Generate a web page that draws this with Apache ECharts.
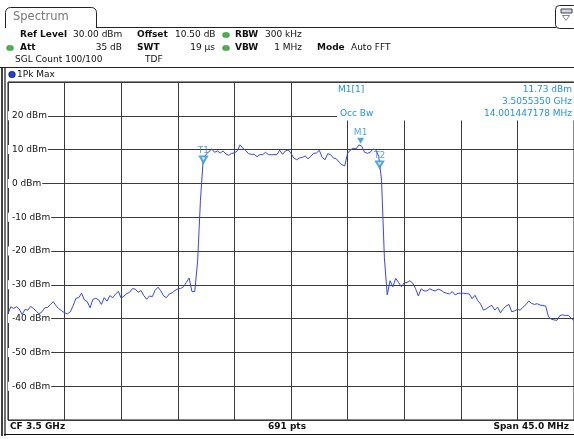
<!DOCTYPE html>
<html>
<head>
<meta charset="utf-8">
<script src="https://cdn.jsdelivr.net/npm/echarts/dist/echarts.min.js"></script>
<style>
  html, body { margin: 0; padding: 0; background: #fff; }
  #chart { width: 574px; height: 439px; }
</style>
</head>
<body>
<div id="chart"></div>
<script>
// Sweep definition: frequency offset from the 3.5 GHz centre, in MHz
const sweepStartMHz = -22.5;
const sweepStopMHz = 22.5;
const sweepStepMHz = 0.225;
const freqDivMHz = 4.5;

// Trace 1 (1Pk Max) levels in dBm, one per sweep point
const traceLevelsDbm = [
  -38.5, -36.5, -37.0, -36.5, -37.2, -38.8, -37.3, -37.5, -36.4, -37.0,
  -37.8, -38.6, -38.0, -36.8, -36.7, -35.8, -35.0, -36.2, -37.1, -37.7,
  -38.3, -38.6, -38.0, -36.2, -34.0, -33.8, -32.5, -34.5, -35.0, -36.8,
  -34.3, -34.0, -34.4, -35.8, -33.8, -34.8, -33.2, -33.8, -32.8, -31.9,
  -34.0, -33.3, -32.6, -32.2, -31.1, -31.3, -32.2, -31.7, -33.2, -34.3,
  -33.3, -33.5, -31.6, -30.7, -31.8, -33.3, -33.8, -32.7, -32.4, -31.7,
  -31.2, -31.1, -30.6, -29.3, -28.0, -32.0, -32.0,
  -23.0, -5.0,
  7.3, 8.6, 9.4, 10.2, 9.2, 9.6, 9.0, 9.6, 8.7, 8.3,
  8.9, 9.0, 9.6, 11.4, 10.4, 9.7, 8.8, 8.6, 8.6, 7.9,
  8.5, 8.5, 9.2, 8.5, 8.5, 8.5, 8.5, 9.8, 8.6, 9.6,
  9.9, 8.9, 7.5, 7.0, 7.5, 7.7, 8.1, 7.3, 8.0, 8.9,
  9.0, 9.8, 7.7, 7.0, 8.8, 8.5, 7.5, 7.3, 6.3, 5.5,
  5.2, 8.9, 9.9, 10.4, 10.2, 11.4, 11.0, 9.2, 8.9, 9.2,
  10.2, 9.9, 8.0,
  1.0, -22.0, -33.0, -28.8, -30.6, -28.1, -29.3, -30.6, -29.4, -29.3,
  -28.8, -29.5, -31.1, -33.3, -31.2, -31.8, -31.8, -31.2, -31.6, -31.8,
  -31.3, -31.6, -32.2, -32.5, -32.7, -32.0, -33.0, -32.5, -32.5, -32.5,
  -32.6, -32.7, -34.1, -33.1, -34.7, -35.7, -37.5, -37.1, -36.5, -36.1,
  -37.5, -36.6, -38.3, -37.1, -36.3, -35.8, -38.0, -37.7, -37.3, -37.5,
  -36.6, -35.9, -34.8, -35.5, -35.8, -35.6, -36.0, -36.1, -36.3, -39.5,
  -40.2, -40.4, -40.5, -39.1, -38.9, -39.1, -39.0, -39.9, -40.6
];

// Level axis (dBm)
const levelMin = -70;
const levelMax = 30;
const levelDiv = 10;

// Marker M1 (peak) and occupied-bandwidth markers T1/T2
const m1OffsetMHz = 5.535;          // 3.5055350 GHz
const m1LevelDbm = 11.73;
const t1OffsetMHz = -6.96;
const occBwMHz = 14.001447178;

// Build the trace as [offset MHz, dBm] pairs, with the M1 point included
const traceData = traceLevelsDbm.map((v, i) => [sweepStartMHz + i * sweepStepMHz, v]);
traceData.push([m1OffsetMHz, m1LevelDbm]);
traceData.sort((a, b) => a[0] - b[0]);

function levelAt(f) {
  for (let i = 1; i < traceData.length; i++) {
    const a = traceData[i - 1], b = traceData[i];
    if (f >= a[0] && f <= b[0]) {
      return a[1] + (b[1] - a[1]) * (f - a[0]) / (b[0] - a[0]);
    }
  }
  return traceData[traceData.length - 1][1];
}
const t2OffsetMHz = t1OffsetMHz + occBwMHz;

const FONT = '"DejaVu Sans", Verdana, sans-serif';
const MK = '#2592d8';
const GRIDC = '#3a3a3a';

function txt(x, y, text, opt) {
  opt = opt || {};
  return {
    type: 'text', z: 20,
    style: {
      x: x, y: y, text: text,
      font: (opt.bold ? 'bold ' : '') + (opt.size || 9) + 'px ' + FONT,
      fill: opt.color || '#111',
      textAlign: opt.align || 'left',
      textVerticalAlign: 'middle'
    }
  };
}
function hline(x1, x2, y, w, c) {
  return { type: 'line', z: 15, shape: { x1: x1, y1: y, x2: x2, y2: y }, style: { stroke: c || '#111', lineWidth: w || 1 } };
}
function vline(x, y1, y2, w, c) {
  return { type: 'line', z: 15, shape: { x1: x, y1: y1, x2: x, y2: y2 }, style: { stroke: c || '#111', lineWidth: w || 1 } };
}
function led(cx, cy) {
  return { type: 'rect', z: 20, shape: { x: cx - 3.5, y: cy - 2.5, width: 7, height: 5, r: 2.5 }, style: { fill: '#4fae4f', stroke: '#3a8a3a', lineWidth: 0.5 } };
}

const chart = echarts.init(document.getElementById('chart'), null, { renderer: 'canvas' });

chart.setOption({
  animation: false,
  backgroundColor: '#fff',
  grid: { left: 8, right: 0, top: 82, height: 338, show: true, borderColor: '#111', borderWidth: 1, backgroundColor: 'transparent' },
  xAxis: {
    type: 'value',
    min: sweepStartMHz, max: sweepStopMHz, interval: freqDivMHz,
    axisLine: { show: false }, axisTick: { show: false }, axisLabel: { show: false },
    splitLine: { show: true, lineStyle: { color: GRIDC, width: 1 } }
  },
  yAxis: {
    type: 'value',
    min: levelMin, max: levelMax, interval: levelDiv,
    axisLine: { show: false }, axisTick: { show: false },
    splitLine: { show: true, lineStyle: { color: GRIDC, width: 1 } },
    axisLabel: {
      inside: true, margin: 0,
      showMinLabel: false, showMaxLabel: false,
      color: '#111', fontFamily: FONT, fontSize: 9,
      backgroundColor: '#fff', padding: [0, 1, 0, 4],
      formatter: v => (v === levelMin || v === levelMax) ? '' : v + ' dBm'
    }
  },
  series: [
    {
      name: '1Pk Max', type: 'line', data: traceData,
      showSymbol: false, symbol: 'none', z: 5,
      lineStyle: { color: '#3446ee', width: 1 }
    },
    {
      name: 'M1', type: 'scatter', z: 6,
      data: [[m1OffsetMHz, m1LevelDbm]],
      symbol: 'triangle', symbolRotate: 180, symbolSize: [7, 6], symbolOffset: [0, -3],
      itemStyle: { color: MK },
      label: { show: true, position: 'top', distance: 1, formatter: 'M1', color: MK, fontFamily: FONT, fontSize: 9 }
    },
    {
      name: 'T1/T2', type: 'scatter', z: 6,
      data: [
        { value: [t1OffsetMHz, levelAt(t1OffsetMHz)], name: 'T1' },
        { value: [t2OffsetMHz, levelAt(t2OffsetMHz)], name: 'T2' }
      ],
      symbol: 'emptyTriangle', symbolRotate: 180, symbolSize: [7, 6], symbolOffset: [0, 1],
      itemStyle: { color: MK, borderWidth: 1 },
      label: { show: true, position: 'top', distance: 0, formatter: p => p.name, color: MK, fontFamily: FONT, fontSize: 9 }
    }
  ],
  graphic: [
    // tab and top rule
    { type: 'rect', z: 14, shape: { x: 5.5, y: 7.5, width: 91, height: 30, r: [5, 5, 0, 0] }, style: { stroke: '#222', lineWidth: 1, fill: '#fff' } },
    { type: 'rect', z: 14.5, shape: { x: 3, y: 28, width: 96, height: 12 }, style: { fill: '#fff' } },
    hline(96.5, 556, 27.5, 1, '#222'),
    txt(13, 17.5, 'Spectrum', { size: 11.5, color: '#777' }),
    // window menu icon
    { type: 'rect', z: 15, shape: { x: 555.5, y: 5.5, width: 22, height: 23, r: 4 }, style: { stroke: '#222', lineWidth: 1, fill: '#fff' } },
    { type: 'rect', z: 16, shape: { x: 561, y: 9, width: 11, height: 4 }, style: { stroke: '#444', lineWidth: 1, fill: '#cfd6e6' } },
    { type: 'polygon', z: 16, shape: { points: [[562.5, 15.5], [569.5, 15.5], [566, 20.5]] }, style: { stroke: '#666', lineWidth: 0.8, fill: '#fff' } },

    // settings block
    txt(20, 35, 'Ref Level', { bold: true }),
    txt(73, 35, '30.00 dBm'),
    txt(137, 35, 'Offset', { bold: true }),
    txt(175, 35, '10.50 dB'),
    led(226, 35),
    txt(235, 35, 'RBW', { bold: true }),
    txt(265, 35, '300 kHz'),

    led(10, 48),
    txt(20, 48, 'Att', { bold: true }),
    txt(122, 48, '35 dB', { align: 'right' }),
    txt(137, 48, 'SWT', { bold: true }),
    txt(215, 48, '19 µs', { align: 'right' }),
    led(226, 48),
    txt(235, 48, 'VBW', { bold: true }),
    txt(302, 48, '1 MHz', { align: 'right' }),
    txt(317, 48, 'Mode', { bold: true }),
    txt(351, 48, 'Auto FFT'),

    txt(15, 60, 'SGL Count 100/100'),
    txt(145, 60, 'TDF'),

    hline(0, 574, 67.5, 1.2, '#222'),

    // trace label row
    { type: 'circle', z: 20, shape: { cx: 12, cy: 74.5, r: 3.3 }, style: { fill: '#1f3fe0', stroke: '#111', lineWidth: 0.6 } },
    txt(17, 74.5, '1Pk Max'),

    // window frame
    vline(2, 67.5, 436, 1.6, '#111'),
    vline(5, 67.5, 436, 1.2, '#111'),
    hline(4, 574, 434.5, 1.2, '#111'),

    // marker readout
    { type: 'rect', z: 12, shape: { x: 337, y: 83, width: 237, height: 37.5 }, style: { fill: '#fff' } },
    txt(338, 90, 'M1[1]', { color: MK }),
    txt(572, 90, m1LevelDbm.toFixed(2) + ' dBm', { color: MK, align: 'right' }),
    txt(572, 102, '3.5055350 GHz', { color: MK, align: 'right' }),
    txt(340, 114, 'Occ Bw', { color: MK }),
    txt(572, 114, occBwMHz.toFixed(9) + ' MHz', { color: MK, align: 'right' }),

    // footer
    txt(10, 426.5, 'CF 3.5 GHz', { bold: true }),
    txt(287, 426.5, '691 pts', { bold: true, align: 'center' }),
    txt(569, 426.5, 'Span 45.0 MHz', { bold: true, align: 'right' })
  ]
});
</script>
</body>
</html>
